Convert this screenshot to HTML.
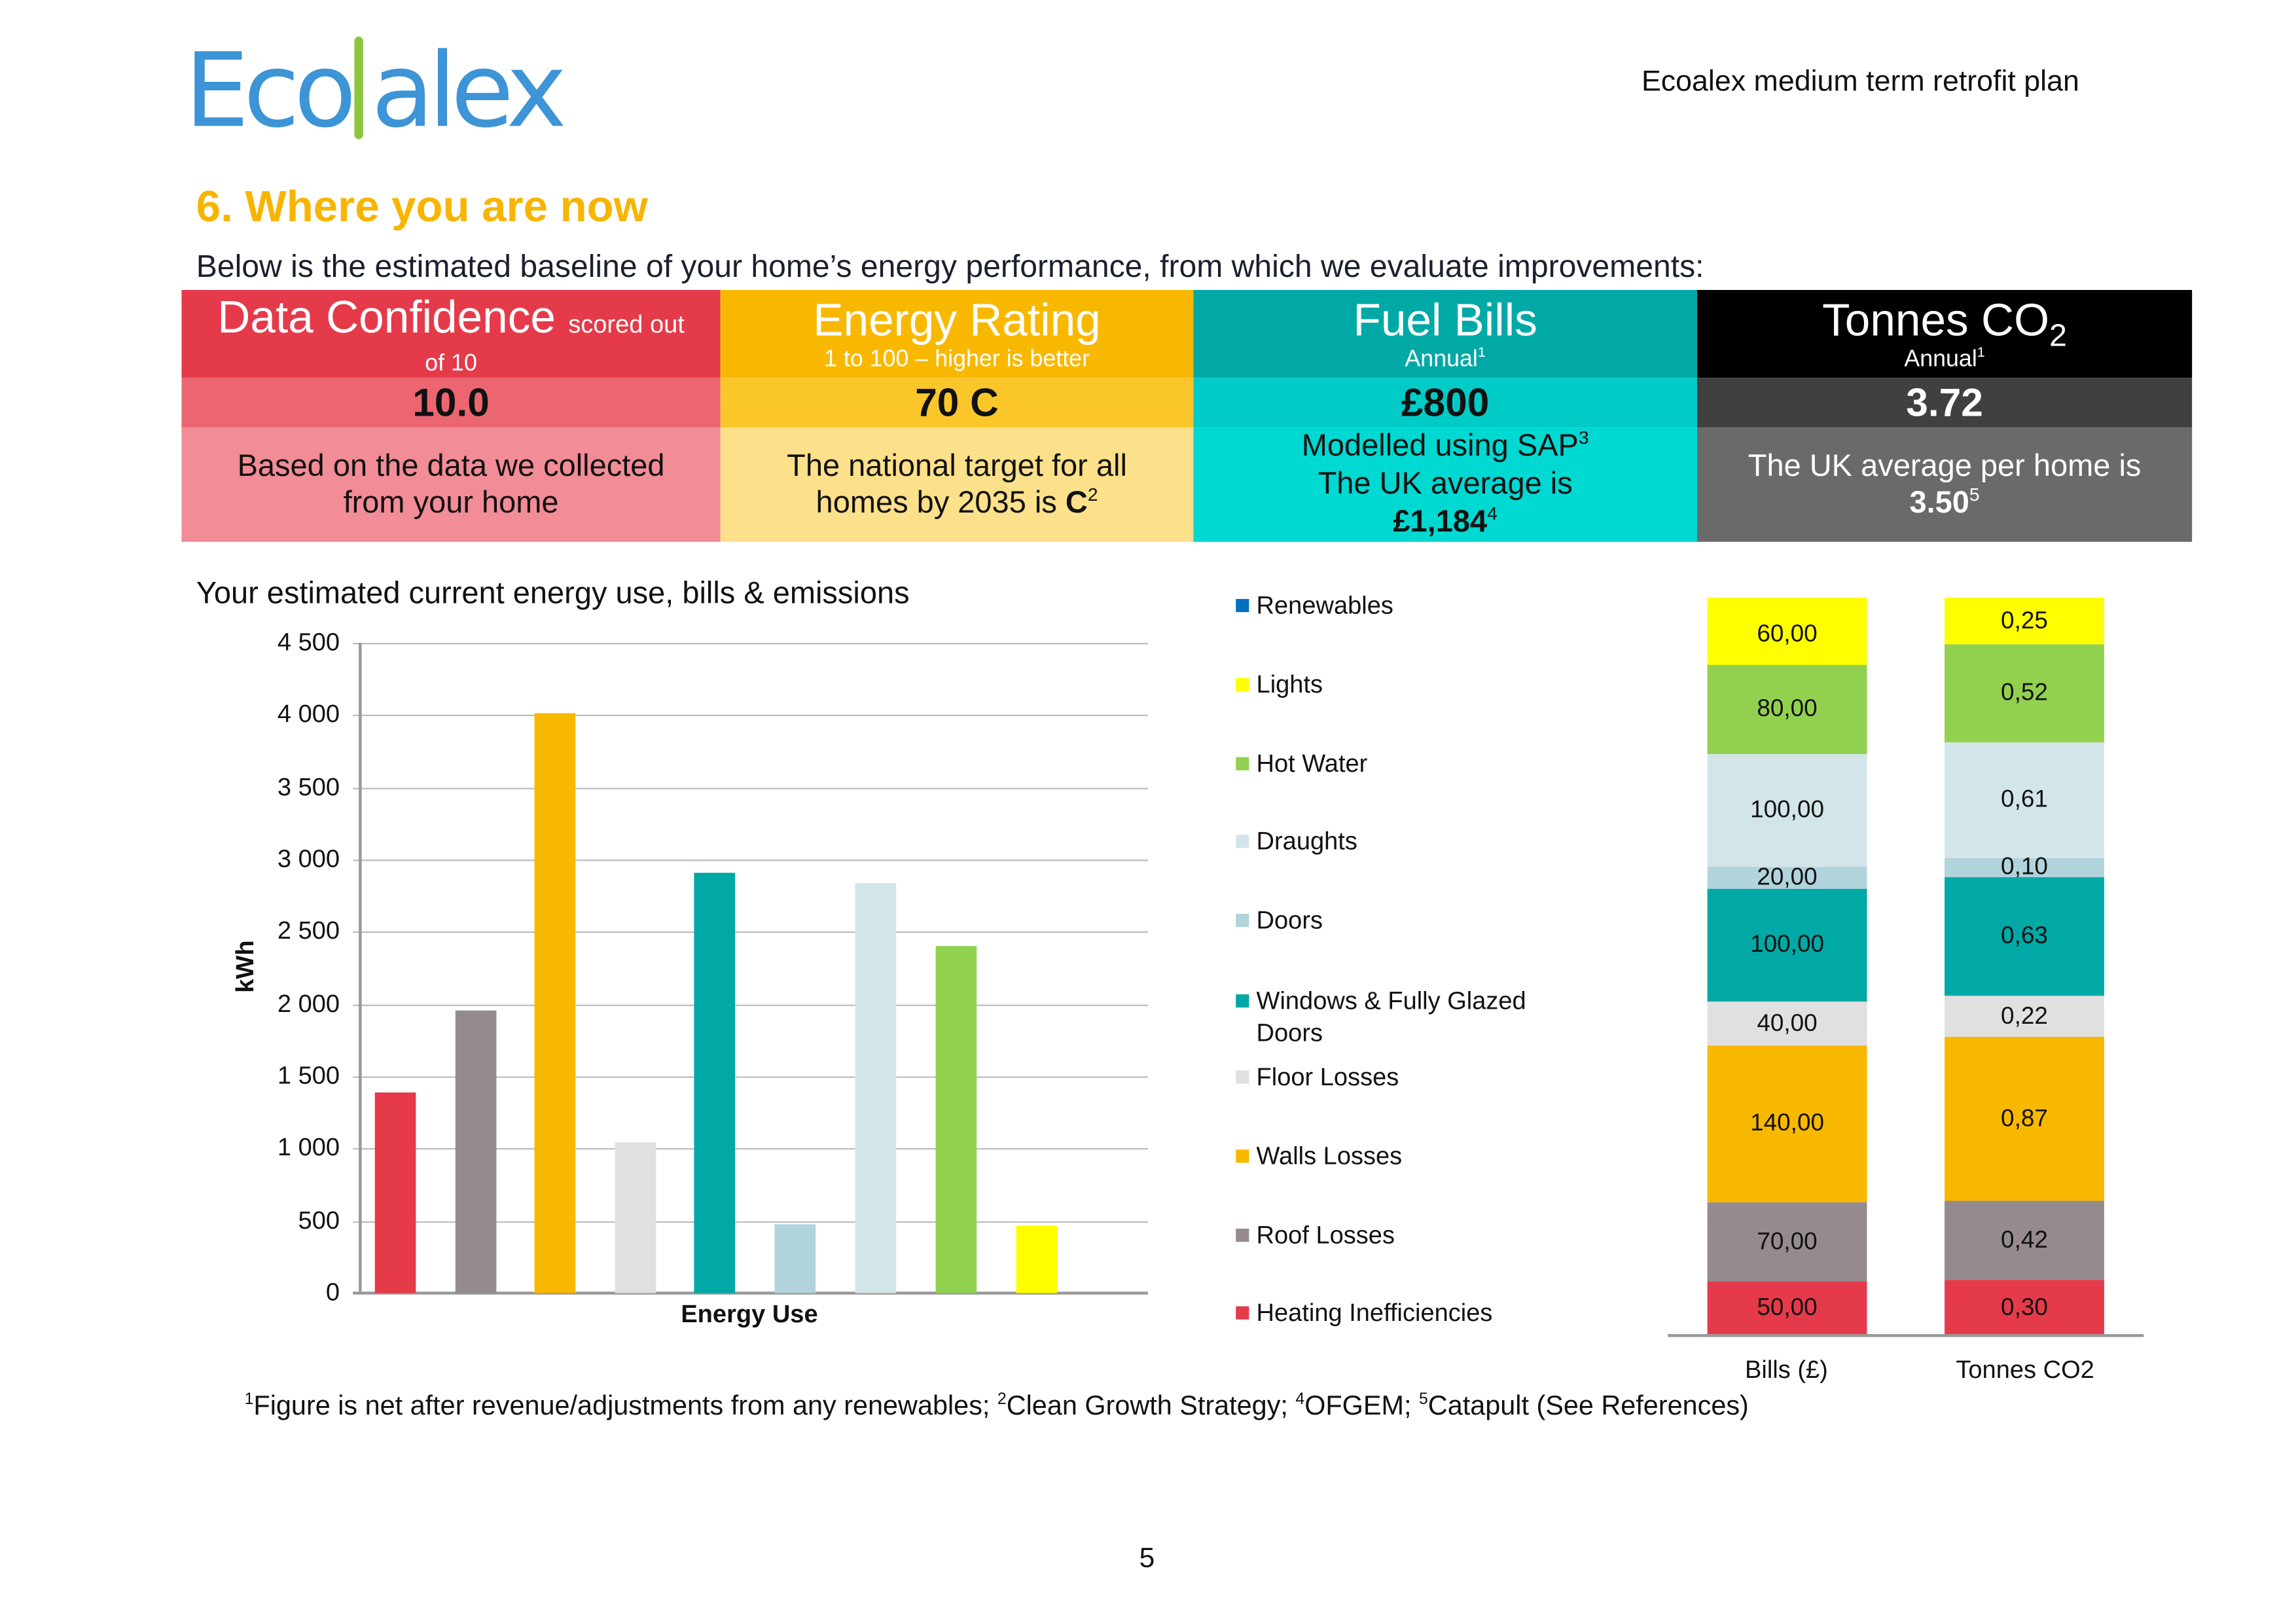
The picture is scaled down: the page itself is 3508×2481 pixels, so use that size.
<!DOCTYPE html>
<html><head><meta charset="utf-8">
<style>
html,body{margin:0;padding:0;background:#fff;}
body{width:3508px;height:2481px;overflow:hidden;position:relative;}
#p{position:absolute;left:0;top:0;width:1568px;height:1109px;transform:scale(2.23724);transform-origin:0 0;font-family:"Liberation Sans",Arial,sans-serif;}
.a{position:absolute;white-space:nowrap;}
.c{position:absolute;text-align:center;}
.cell{position:absolute;display:flex;flex-direction:column;align-items:center;justify-content:center;text-align:center;}
.cell>div{display:block;}
.g{position:absolute;left:241px;width:543px;height:1px;background:#bdbdbd;}
.t{position:absolute;width:60px;left:172px;text-align:right;font-size:17px;color:#111;}
.b{position:absolute;width:28px;}
.lg{position:absolute;left:844px;font-size:17px;color:#111;}
.lg i{display:inline-block;width:9px;height:9px;margin-right:5px;vertical-align:1px;}
.seg{position:absolute;display:flex;align-items:center;justify-content:center;font-size:16.5px;color:#111;}
sup{font-size:0.6em;line-height:0;}
sub{line-height:0;}
</style></head><body><div id="p">
<!-- logo -->
<div class="a" style="left:126px;top:22px;font-size:70px;color:#3d94d6;font-family:'DejaVu Sans','Liberation Sans',sans-serif;letter-spacing:-4px;line-height:80px;">Eco<span style="display:inline-block;width:14px"></span>alex</div>
<div class="a" style="left:242px;top:25px;width:6px;height:70px;background:#8cc63f;border-radius:3px;"></div>
<div class="a" style="left:1121px;top:45px;font-size:20px;color:#111;">Ecoalex medium term retrofit plan</div>
<div class="a" style="left:134px;top:125px;font-size:30px;font-weight:bold;color:#f7b500;">6. Where you are now</div>
<div class="a" style="left:134px;top:170px;font-size:21.5px;color:#1b1f2e;">Below is the estimated baseline of your home’s energy performance, from which we evaluate improvements:</div>

<!-- table -->
<div class="cell" style="left:124px;top:198px;width:368px;height:60px;background:#e53a4a;color:#fff;"><div style="font-size:31px;line-height:36px;">Data Confidence <span style="font-size:17px">scored out</span></div><div style="font-size:16px;">of 10</div></div>
<div class="cell" style="left:492px;top:198px;width:323px;height:60px;background:#f9b800;color:#fff;"><div style="font-size:31px;line-height:36px;">Energy Rating</div><div style="font-size:16px;">1 to 100 – higher is better</div></div>
<div class="cell" style="left:815px;top:198px;width:344px;height:60px;background:#00a9a6;color:#fff;"><div style="font-size:31px;line-height:36px;">Fuel Bills</div><div style="font-size:16px;">Annual<sup>1</sup></div></div>
<div class="cell" style="left:1159px;top:198px;width:338px;height:60px;background:#000;color:#fff;"><div style="font-size:31px;line-height:36px;">Tonnes CO<sub style="font-size:0.7em">2</sub></div><div style="font-size:16px;">Annual<sup>1</sup></div></div>

<div class="cell" style="left:124px;top:258px;width:368px;height:34px;background:#ec6672;color:#111;font-size:27px;font-weight:bold;"><div>10.0</div></div>
<div class="cell" style="left:492px;top:258px;width:323px;height:34px;background:#fbc62a;color:#111;font-size:27px;font-weight:bold;"><div>70 C</div></div>
<div class="cell" style="left:815px;top:258px;width:344px;height:34px;background:#00cbc6;color:#111;font-size:27px;font-weight:bold;"><div>£800</div></div>
<div class="cell" style="left:1159px;top:258px;width:338px;height:34px;background:#404040;color:#fff;font-size:27px;font-weight:bold;"><div>3.72</div></div>

<div class="cell" style="left:124px;top:292px;width:368px;height:78px;background:#f28c96;color:#111;font-size:21px;line-height:25px;"><div>Based on the data we collected<br>from your home</div></div>
<div class="cell" style="left:492px;top:292px;width:323px;height:78px;background:#fce08a;color:#111;font-size:21px;line-height:25px;"><div>The national target for all<br>homes by 2035 is <b>C</b><sup>2</sup></div></div>
<div class="cell" style="left:815px;top:292px;width:344px;height:78px;background:#00d8d2;color:#111;font-size:21px;line-height:26px;"><div>Modelled using SAP<sup>3</sup><br>The UK average is<br><b>£1,184</b><sup>4</sup></div></div>
<div class="cell" style="left:1159px;top:292px;width:338px;height:78px;background:#6a6a6a;color:#fff;font-size:21px;line-height:25px;"><div>The UK average per home is<br><b>3.50</b><sup>5</sup></div></div>

<!-- bar chart -->
<div class="a" style="left:134px;top:394px;font-size:21px;color:#111;">Your estimated current energy use, bills &amp; emissions</div>
<div class="g" style="top:439px"></div><div class="g" style="top:488px"></div><div class="g" style="top:538px"></div><div class="g" style="top:587px"></div><div class="g" style="top:636px"></div><div class="g" style="top:686px"></div><div class="g" style="top:735px"></div><div class="g" style="top:784px"></div><div class="g" style="top:834px"></div>
<div class="a" style="left:241px;top:882px;width:543px;height:2px;background:#999;"></div>
<div class="a" style="left:245px;top:439px;width:2px;height:444px;background:#999;"></div>
<div class="t" style="top:429px">4 500</div><div class="t" style="top:478px">4 000</div><div class="t" style="top:528px">3 500</div><div class="t" style="top:577px">3 000</div><div class="t" style="top:626px">2 500</div><div class="t" style="top:676px">2 000</div><div class="t" style="top:725px">1 500</div><div class="t" style="top:774px">1 000</div><div class="t" style="top:824px">500</div><div class="t" style="top:873px">0</div>
<div class="a" style="left:150px;top:650px;font-size:17px;font-weight:bold;transform:rotate(-90deg);transform-origin:center;color:#111;">kWh</div>
<div class="b" style="left:256px;top:746px;height:137px;background:#e53a4a"></div>
<div class="b" style="left:311px;top:690px;height:193px;background:#958b8e"></div>
<div class="b" style="left:365px;top:487px;height:396px;background:#f9b800"></div>
<div class="b" style="left:420px;top:780px;height:103px;background:#e0e0e0"></div>
<div class="b" style="left:474px;top:596px;height:287px;background:#00a9a6"></div>
<div class="b" style="left:529px;top:836px;height:47px;background:#b0d3dc"></div>
<div class="b" style="left:584px;top:603px;height:280px;background:#d2e6ea"></div>
<div class="b" style="left:639px;top:646px;height:237px;background:#92d14f"></div>
<div class="b" style="left:694px;top:837px;height:46px;background:#ffff00"></div>
<div class="a" style="left:465px;top:888px;font-size:17px;font-weight:bold;color:#111;">Energy Use</div>

<!-- legend -->
<div class="lg" style="top:404px"><i style="background:#0070c0"></i>Renewables</div>
<div class="lg" style="top:458px"><i style="background:#ffff00"></i>Lights</div>
<div class="lg" style="top:512px"><i style="background:#92d14f"></i>Hot Water</div>
<div class="lg" style="top:565px"><i style="background:#d2e6ea"></i>Draughts</div>
<div class="lg" style="top:619px"><i style="background:#b0d3dc"></i>Doors</div>
<div class="lg" style="top:673px;line-height:22px;"><i style="background:#00a9a6"></i>Windows &amp; Fully Glazed<br><span style="padding-left:14px">Doors</span></div>
<div class="lg" style="top:726px"><i style="background:#e0e0e0"></i>Floor Losses</div>
<div class="lg" style="top:780px"><i style="background:#f9b800"></i>Walls Losses</div>
<div class="lg" style="top:834px"><i style="background:#958b8e"></i>Roof Losses</div>
<div class="lg" style="top:887px"><i style="background:#e53a4a"></i>Heating Inefficiencies</div>

<!-- stacked bars: Bills -->
<div class="seg" style="left:1166px;width:109px;top:408px;height:46px;background:#ffff00;padding-top:2px">60,00</div>
<div class="seg" style="left:1166px;width:109px;top:454px;height:61px;background:#92d14f">80,00</div>
<div class="seg" style="left:1166px;width:109px;top:515px;height:77px;background:#d2e6ea">100,00</div>
<div class="seg" style="left:1166px;width:109px;top:592px;height:15px;background:#b0d3dc">20,00</div>
<div class="seg" style="left:1166px;width:109px;top:607px;height:77px;background:#00a9a6">100,00</div>
<div class="seg" style="left:1166px;width:109px;top:684px;height:30px;background:#e0e0e0">40,00</div>
<div class="seg" style="left:1166px;width:109px;top:714px;height:107px;background:#f9b800">140,00</div>
<div class="seg" style="left:1166px;width:109px;top:821px;height:54px;background:#958b8e">70,00</div>
<div class="seg" style="left:1166px;width:109px;top:875px;height:37px;background:#e53a4a">50,00</div>
<!-- CO2 -->
<div class="seg" style="left:1328px;width:109px;top:408px;height:32px;background:#ffff00">0,25</div>
<div class="seg" style="left:1328px;width:109px;top:440px;height:67px;background:#92d14f">0,52</div>
<div class="seg" style="left:1328px;width:109px;top:507px;height:79px;background:#d2e6ea">0,61</div>
<div class="seg" style="left:1328px;width:109px;top:586px;height:13px;background:#b0d3dc">0,10</div>
<div class="seg" style="left:1328px;width:109px;top:599px;height:81px;background:#00a9a6">0,63</div>
<div class="seg" style="left:1328px;width:109px;top:680px;height:28px;background:#e0e0e0">0,22</div>
<div class="seg" style="left:1328px;width:109px;top:708px;height:112px;background:#f9b800">0,87</div>
<div class="seg" style="left:1328px;width:109px;top:820px;height:54px;background:#958b8e">0,42</div>
<div class="seg" style="left:1328px;width:109px;top:874px;height:38px;background:#e53a4a">0,30</div>
<div class="a" style="left:1139px;top:911px;width:325px;height:2px;background:#999;"></div>
<div class="c" style="left:1160px;width:120px;top:926px;font-size:17px;color:#111;">Bills (£)</div>
<div class="c" style="left:1313px;width:140px;top:926px;font-size:17px;color:#111;">Tonnes CO2</div>

<div class="a" style="left:167px;top:949px;font-size:18.5px;color:#111;"><sup>1</sup>Figure is net after revenue/adjustments from any renewables; <sup>2</sup>Clean Growth Strategy; <sup>4</sup>OFGEM; <sup>5</sup>Catapult (See References)</div>
<div class="a" style="left:778px;top:1054px;font-size:19px;color:#111;">5</div>
</div></body></html>
